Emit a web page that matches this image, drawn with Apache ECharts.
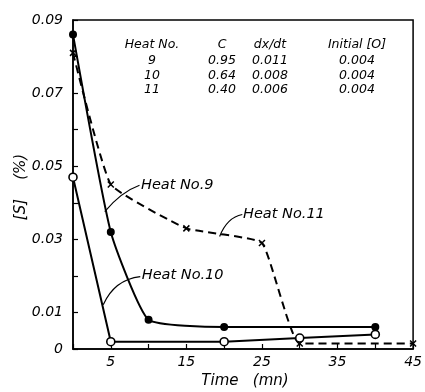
<!DOCTYPE html>
<html><head><meta charset="utf-8">
<script src="https://cdn.jsdelivr.net/npm/echarts@6/dist/echarts.min.js"></script>
<style>html,body{margin:0;padding:0;background:#fff}#c{width:425px;height:392px}</style>
</head><body><div id="c"></div>
<script>
const heat9Time = [0, 5, 10, 20, 40];
const heat9S = [0.086, 0.032, 0.008, 0.006, 0.006];
const heat10Time = [0, 5, 20, 30, 40];
const heat10S = [0.047, 0.002, 0.002, 0.003, 0.004];
const heat11Time = [0, 5, 15, 25, 30, 45];
const heat11S = [0.081, 0.045, 0.033, 0.029, 0.0015, 0.0015];
const xTickLabels = [5, 15, 25, 35, 45];
const yTickLabels = [0, 0.01, 0.03, 0.05, 0.07, 0.09];
const tableHeader = ['Heat No.', 'C', 'dx/dt', 'Initial [O]'];
const tableRows = [['9', '0.95', '0.011', '0.004'], ['10', '0.64', '0.008', '0.004'], ['11', '0.40', '0.006', '0.004']];

const FONT = 'DejaVu Sans';
const zip = (a, b) => a.map((t, i) => [t, b[i]]);
const chart = echarts.init(document.getElementById('c'), null, {renderer: 'canvas'});
const lbl = {fontFamily: FONT, fontStyle: 'italic', fontSize: 14, color: '#000'};
chart.setOption({
  animation: false,
  backgroundColor: '#fff',
  grid: {left: 73, right: 7, top: 20, bottom: 43, show: true, borderColor: '#000', borderWidth: 1.5, containLabel: false},
  xAxis: {
    type: 'value', min: 0, max: 45, interval: 5,
    axisLine: {lineStyle: {color: '#000', width: 1.5}},
    axisTick: {inside: true, length: 5, lineStyle: {color: '#000', width: 1.2}},
    axisLabel: Object.assign({}, lbl, {margin: 6,
      formatter: v => xTickLabels.some(t => Math.abs(t - v) < 1e-6) ? String(v) : ''}),
    splitLine: {show: false}
  },
  yAxis: {
    type: 'value', min: 0, max: 0.09, interval: 0.01,
    axisLine: {show: true, lineStyle: {color: '#000', width: 1.5}},
    axisTick: {show: true, inside: true, length: 5, lineStyle: {color: '#000', width: 1.2}},
    axisLabel: Object.assign({}, lbl, {margin: 10,
      formatter: v => {
        const m = yTickLabels.find(t => Math.abs(t - v) < 1e-6);
        if (m === undefined) return '';
        return m === 0 ? '0' : m.toFixed(2);
      }}),
    splitLine: {show: false}
  },
  series: [
    {name: 'Heat No.9', type: 'line', data: zip(heat9Time, heat9S), smooth: 0.15,
     symbol: 'circle', symbolSize: 8,
     itemStyle: {color: '#000'}, lineStyle: {color: '#000', width: 2}, z: 3},
    {name: 'Heat No.10', type: 'line', data: zip(heat10Time, heat10S),
     symbol: 'circle', symbolSize: 8,
     itemStyle: {color: '#fff', borderColor: '#000', borderWidth: 1.6}, lineStyle: {color: '#000', width: 2}, z: 4},
    {name: 'Heat No.11', type: 'line', data: zip(heat11Time, heat11S), smooth: 0.12,
     symbol: 'path://M0 0L10 10M10 0L0 10', symbolSize: 6,
     itemStyle: {color: 'none', borderColor: '#000', borderWidth: 1.5},
     lineStyle: {color: '#000', width: 2, type: [8, 5]}, z: 2}
  ]
});

const px = (t, v) => chart.convertToPixel({gridIndex: 0}, [t, v]);
function leader(a, b, c) {
  const p1 = px(a[0], a[1]), p2 = px(b[0], b[1]), cp = px(c[0], c[1]);
  return {type: 'bezierCurve', shape: {x1: p1[0], y1: p1[1], x2: p2[0], y2: p2[1], cpx1: cp[0], cpy1: cp[1]},
    style: {stroke: '#000', lineWidth: 1.2, fill: null}, z: 10};
}
function note(text, at) {
  const p = px(at[0], at[1]);
  return {type: 'text', x: p[0], y: p[1], style: {text: text, font: 'italic 14.5px "' + FONT + '"', fill: '#000', verticalAlign: 'middle'}, z: 10};
}
const g = [];
g.push(leader([4.2, 0.0376], [8.8, 0.0448], [6.4, 0.0430]));
g.push(note('Heat No.9', [9.0, 0.0448]));
g.push(leader([4.0, 0.0121], [8.9, 0.0198], [5.5, 0.0190]));
g.push(note('Heat No.10', [9.1, 0.0203]));
g.push(leader([19.4, 0.0308], [22.4, 0.0368], [20.4, 0.0360]));
g.push(note('Heat No.11', [22.5, 0.0370]));

const colX = [152, 222, 270, 357];
const rowY = [45, 61, 76, 90];
tableHeader.forEach((h, i) => g.push({type: 'text', x: colX[i], y: rowY[0],
  style: {text: h, font: 'italic 12.5px "' + FONT + '"', fill: '#000', align: 'center', verticalAlign: 'middle'}}));
tableRows.forEach((r, j) => r.forEach((c, i) => g.push({type: 'text', x: colX[i], y: rowY[j + 1],
  style: {text: c, font: 'italic 12.5px "' + FONT + '"', fill: '#000', align: 'center', verticalAlign: 'middle'}})));

g.push({type: 'text', x: 21, y: 187, rotation: Math.PI / 2,
  style: {text: '[S]    (%)', font: 'italic 15px "' + FONT + '"', fill: '#000', align: 'center', verticalAlign: 'middle'}});
g.push({type: 'text', x: 245, y: 381,
  style: {text: 'Time   (mn)', font: 'italic 15px "' + FONT + '"', fill: '#000', align: 'center', verticalAlign: 'middle'}});
chart.setOption({graphic: g});
</script>
</body></html>
